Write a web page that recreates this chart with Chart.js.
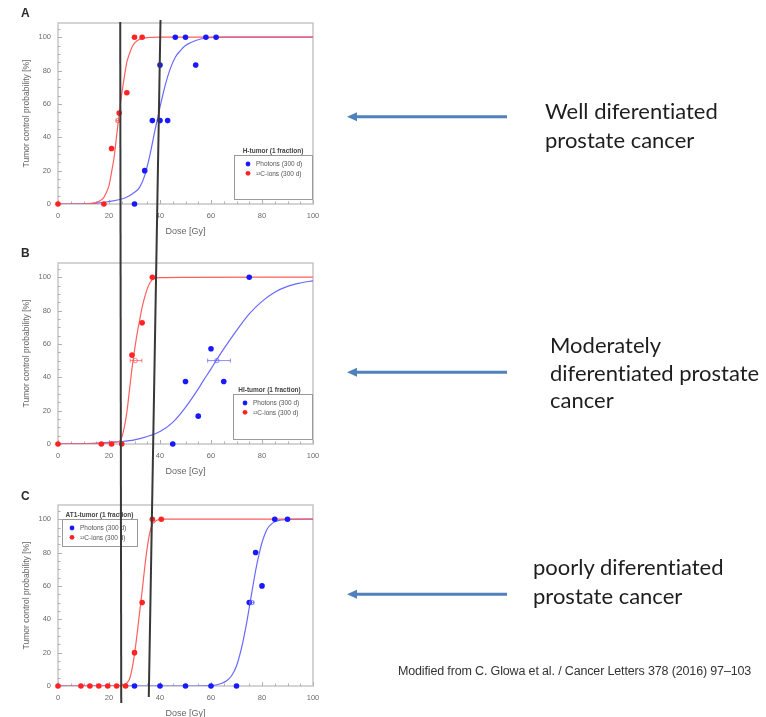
<!DOCTYPE html>
<html>
<head>
<meta charset="utf-8">
<script src="https://cdn.jsdelivr.net/npm/chart.js@4.4.1/dist/chart.umd.min.js"></script>
<style>
  body { margin: 0; background: #fff; }
  #page { position: relative; width: 766px; height: 717px; overflow: hidden; background: #fff; }
  .panel { position: absolute; left: 0; }
  #overlay { position: absolute; left: 0; top: 0; pointer-events: none; }
  .note { position: absolute; font-family: Lato, "Liberation Sans", sans-serif; color: #1e1e1e;
          font-size: 22px; white-space: nowrap; font-variant-ligatures: none; }
  #cite { position: absolute; left: 398px; top: 664px; font-family: "Liberation Sans", sans-serif;
          font-size: 12.5px; color: #333; white-space: nowrap; letter-spacing: -0.15px; }
</style>
</head>
<body>
<div id="page">
  <canvas id="panelA" class="panel" width="330" height="240" style="top:0px"></canvas>
  <canvas id="panelB" class="panel" width="330" height="240" style="top:240px"></canvas>
  <canvas id="panelC" class="panel" width="330" height="240" style="top:482px"></canvas>
  <canvas id="overlay" width="766" height="717"></canvas>

  <div class="note" style="left:545px; top:97px; line-height:28.5px;">Well diferentiated<br>prostate cancer</div>
  <div class="note" style="left:550px; top:331px; line-height:27.5px;">Moderately<br>diferentiated prostate<br>cancer</div>
  <div class="note" style="left:533px; top:552px; line-height:29px;">poorly diferentiated<br>prostate cancer</div>
  <div id="cite">Modified from C. Glowa et al. / Cancer Letters 378 (2016) 97–103</div>
</div>

<script>
// Axis tick values
const doseTicks = [0, 20, 40, 60, 80, 100];
const tcpTicks = [0, 20, 40, 60, 80, 100];

// Series labels
const photonLabel = 'Photons (300 d)';
const ionLabel = '\u00B9\u00B2C-ions (300 d)';

// ---- Panel A: H-tumor (1 fraction) ----
const aPhotonDose = [30, 34, 37, 40, 40, 43, 46, 50, 54, 58, 62];
const aPhotonTcp  = [0, 20, 50, 50, 83.3, 50, 100, 100, 83.3, 100, 100];
const aIonDose = [0, 18, 21, 24, 27, 30, 33];
const aIonTcp  = [0, 0, 33.3, 54.5, 66.7, 100, 100];
const aPhotonFitDose = [0, 10, 15, 20, 25, 28, 30, 32, 34, 36, 38, 40, 42, 44, 46, 48, 50, 54, 58, 65, 80, 100];
const aPhotonFitTcp  = [0, 0.1, 0.5, 1.5, 3, 5, 7, 10, 17, 29, 44, 58, 71, 81, 88, 92, 95, 98, 99.5, 100, 100, 100];
const aIonFitDose = [0, 10, 14, 16, 18, 19, 20, 21, 22, 23, 24, 25, 26, 27, 28, 29, 30, 32, 35, 40, 100];
const aIonFitTcp  = [0, 0, 0.5, 1.5, 4, 7, 11, 19, 28, 41, 54, 66, 76, 85, 90, 94, 96.5, 98.8, 99.7, 100, 100];
const aEd50 = [{ series: 'ion', dose: 23.5, lo: 22.8, hi: 24.2 }];

// ---- Panel B: HI-tumor (1 fraction) ----
const bPhotonDose = [45, 50, 55, 60, 65, 75];
const bPhotonTcp  = [0, 37.5, 16.7, 57.1, 37.5, 100];
const bIonDose = [0, 17, 21, 25, 29, 33, 37];
const bIonTcp  = [0, 0, 0, 0, 53.3, 72.7, 100];
const bPhotonFitDose = [0, 10, 20, 25, 30, 35, 40, 45, 50, 55, 57, 60, 62, 65, 70, 75, 80, 85, 90, 95, 100];
const bPhotonFitTcp  = [0, 0.2, 1, 1.5, 2.5, 4.5, 7.5, 13, 22, 33, 38, 45, 50, 57, 68, 78, 85.5, 91, 94.5, 96.5, 97.8];
const bIonFitDose = [0, 15, 20, 22, 24, 25, 26, 27, 28, 29, 30, 31, 32, 33, 34, 35, 36, 37, 38, 40, 50, 100];
const bIonFitTcp  = [0, 0.3, 0.6, 1, 1.5, 4, 10, 19, 32, 45, 56, 66, 74, 82, 88, 93, 96.5, 98.5, 99.3, 99.7, 99.9, 100];
const bEd50 = [
  { series: 'ion', dose: 30.3, lo: 28.3, hi: 32.9 },
  { series: 'photon', dose: 62.3, lo: 58.7, hi: 67.6 }
];

// ---- Panel C: AT1-tumor (1 fraction) ----
const cPhotonDose = [30, 40, 50, 60, 70, 75, 77.5, 80, 85, 90];
const cPhotonTcp  = [0, 0, 0, 0, 0, 50, 80, 60, 100, 100];
const cIonDose = [0, 9, 12.5, 16, 19.5, 23, 26.5, 30, 33, 37, 40.5];
const cIonTcp  = [0, 0, 0, 0, 0, 0, 0, 20, 50, 100, 100];
const cPhotonFitDose = [0, 55, 60, 62, 64, 66, 68, 70, 72, 74, 75, 76, 77, 78, 79, 80, 82, 84, 86, 88, 90, 100];
const cPhotonFitTcp  = [0, 0, 0.2, 0.6, 1.5, 3, 6, 12, 23, 38, 47, 56, 65, 73, 80, 86, 94, 97.5, 99, 99.6, 99.9, 100];
const cIonFitDose = [0, 20, 25, 26, 27, 28, 29, 30, 31, 32, 33, 34, 35, 36, 37, 38, 39, 42, 100];
const cIonFitTcp  = [0, 0, 0.3, 0.8, 1.8, 4, 10, 19, 31, 44, 57, 71, 83, 92, 97, 98.5, 99.5, 100, 100];
const cEd50 = [{ series: 'photon', dose: 76, lo: 75.2, hi: 76.8 }];

// Dose markers spanning all three panels (dose at top edge, dose at bottom edge)
const doseMarkerTop = [24.4, 40.2];
const doseMarkerBottom = [24.8, 35.6];

// ---------------------------------------------------------------
const PHOTON_PT = 'rgb(25,25,255)';
const ION_PT = 'rgb(255,35,35)';
const PHOTON_LINE = 'rgb(105,105,255)';
const ION_LINE = 'rgb(255,95,95)';
const AXIS_FONT = '"Liberation Sans", Arial, sans-serif';

const zip = (xs, ys) => xs.map((x, i) => ({ x, y: ys[i] }));

// Frame, minor ticks, panel letter, inset legend and ED50 bars
const panelDecor = {
  id: 'panelDecor',
  beforeDatasetsDraw(chart, args, opts) {
    const { ctx, chartArea: a, scales: { x, y } } = chart;
    ctx.save();
    ctx.strokeStyle = '#c6c6c6';
    ctx.lineWidth = 1.5;
    ctx.strokeRect(a.left, a.top, a.right - a.left, a.bottom - a.top);
    ctx.strokeStyle = '#b0b0b0';
    ctx.lineWidth = 1;
    ctx.beginPath();
    for (let v = 0; v <= 105; v += 5) {
      const py = Math.round(y.getPixelForValue(v)) + 0.5;
      ctx.moveTo(a.left, py); ctx.lineTo(a.left + (v % 20 === 0 ? 4 : 2.5), py);
    }
    for (let v = 0; v <= 100; v += 5) {
      const px = Math.round(x.getPixelForValue(v)) + 0.5;
      ctx.moveTo(px, a.bottom); ctx.lineTo(px, a.bottom - (v % 20 === 0 ? 4 : 2.5));
    }
    ctx.stroke();
    ctx.restore();
  },
  afterDatasetsDraw(chart, args, opts) {
    const { ctx, scales: { x, y } } = chart;
    ctx.save();
    (opts.ed50 || []).forEach(e => {
      const col = e.series === 'ion' ? 'rgba(255,90,90,0.75)' : 'rgba(100,100,255,0.75)';
      const py = y.getPixelForValue(50);
      const x0 = x.getPixelForValue(e.lo), x1 = x.getPixelForValue(e.hi), xc = x.getPixelForValue(e.dose);
      ctx.strokeStyle = col; ctx.lineWidth = 1;
      ctx.beginPath();
      ctx.moveTo(x0, py); ctx.lineTo(x1, py);
      ctx.moveTo(x0, py - 2); ctx.lineTo(x0, py + 2);
      ctx.moveTo(x1, py - 2); ctx.lineTo(x1, py + 2);
      ctx.stroke();
      ctx.beginPath(); ctx.arc(xc, py, 2.2, 0, Math.PI * 2); ctx.stroke();
    });
    ctx.restore();
  },
  afterDraw(chart, args, opts) {
    const { ctx, chartArea: a } = chart;
    ctx.save();
    // panel letter
    ctx.fillStyle = '#2a2a2a';
    ctx.font = 'bold 12px ' + AXIS_FONT;
    ctx.textBaseline = 'middle';
    ctx.textAlign = 'left';
    ctx.fillText(opts.letter, 21, opts.letterY);

    // inset legend
    const L = opts.legend;
    const bx = a.left + L.left, by = a.top + L.top;
    ctx.strokeStyle = '#9a9a9a'; ctx.lineWidth = 1;
    ctx.strokeRect(bx + 0.5, by + 0.5, L.width, L.height);
    ctx.fillStyle = '#444';
    ctx.font = 'bold 6.5px ' + AXIS_FONT;
    ctx.textAlign = 'center';
    ctx.fillText(L.title, bx + L.width / 2 + L.titleShift, by - 4);
    ctx.font = '6.5px ' + AXIS_FONT;
    ctx.textAlign = 'left';
    const items = chart.data.datasets.filter(d => d.inLegend);
    items.forEach((d, i) => {
      const my = by + 9 + i * 9.3;
      const mx = bx + L.markerX;
      ctx.fillStyle = d.backgroundColor;
      ctx.beginPath(); ctx.arc(mx, my, 2.4, 0, Math.PI * 2); ctx.fill();
      ctx.fillStyle = '#555';
      ctx.fillText(d.label, mx + 8, my + 0.5);
    });
    ctx.restore();
  }
};

function buildPanel(id, letter, letterY, photon, ion, photonFit, ionFit, ed50, legend) {
  const pointSet = (label, pts, color) => ({
    type: 'scatter', label, data: pts, backgroundColor: color, borderColor: color,
    pointRadius: 2.8, pointHoverRadius: 2.8, borderWidth: 0, order: 0, clip: false, inLegend: true
  });
  const fitSet = (label, pts, color, order) => ({
    type: 'line', label, data: pts, borderColor: color, backgroundColor: color,
    borderWidth: 1.2, pointRadius: 0, cubicInterpolationMode: 'monotone', fill: false, order
  });
  return new Chart(document.getElementById(id), {
    type: 'scatter',
    data: {
      datasets: [
        pointSet(photonLabel, photon, PHOTON_PT),
        pointSet(ionLabel, ion, ION_PT),
        fitSet(photonLabel + ' fit', photonFit, PHOTON_LINE, 2),
        fitSet(ionLabel + ' fit', ionFit, ION_LINE, 1)
      ]
    },
    options: {
      responsive: false,
      devicePixelRatio: 1,
      animation: false,
      layout: { padding: { left: 0, right: 17, top: 23, bottom: 0 } },
      plugins: {
        legend: { display: false },
        tooltip: { enabled: false },
        panelDecor: { letter, letterY, ed50, legend }
      },
      scales: {
        x: {
          type: 'linear', min: 0, max: 100,
          afterBuildTicks: s => { s.ticks = doseTicks.map(v => ({ value: v })); },
          afterFit: s => { s.height = 36; },
          grid: { display: false, drawTicks: false, tickLength: 0 }, border: { display: false },
          ticks: { font: { family: AXIS_FONT, size: 7.5 }, color: '#6a6a6a', padding: 7, maxRotation: 0 },
          title: { display: true, text: 'Dose [Gy]', color: '#666',
                   font: { family: AXIS_FONT, size: 9 }, padding: { top: 0, bottom: 2.6 } }
        },
        y: {
          type: 'linear', min: 0, max: 108.5,
          afterBuildTicks: s => { s.ticks = tcpTicks.map(v => ({ value: v })); },
          afterFit: s => { s.width = 58; },
          grid: { display: false, drawTicks: false, tickLength: 0 }, border: { display: false },
          ticks: { font: { family: AXIS_FONT, size: 7.5 }, color: '#6a6a6a', padding: 7 },
          title: { display: true, text: 'Tumor control probability [%]', color: '#666',
                   font: { family: AXIS_FONT, size: 8.5 }, padding: { top: 22, bottom: 0 } }
        }
      }
    },
    plugins: [panelDecor]
  });
}

const chartA = buildPanel('panelA', 'A', 14,
  zip(aPhotonDose, aPhotonTcp), zip(aIonDose, aIonTcp),
  zip(aPhotonFitDose, aPhotonFitTcp), zip(aIonFitDose, aIonFitTcp), aEd50,
  { title: 'H-tumor (1 fraction)', left: 176, top: 132, width: 78, height: 44, markerX: 14, titleShift: 0 });

const chartB = buildPanel('panelB', 'B', 14,
  zip(bPhotonDose, bPhotonTcp), zip(bIonDose, bIonTcp),
  zip(bPhotonFitDose, bPhotonFitTcp), zip(bIonFitDose, bIonFitTcp), bEd50,
  { title: 'HI-tumor (1 fraction)', left: 175, top: 131, width: 79, height: 45, markerX: 12, titleShift: -3 });

const chartC = buildPanel('panelC', 'C', 15,
  zip(cPhotonDose, cPhotonTcp), zip(cIonDose, cIonTcp),
  zip(cPhotonFitDose, cPhotonFitTcp), zip(cIonFitDose, cIonFitTcp), cEd50,
  { title: 'AT1-tumor (1 fraction)', left: 4, top: 14, width: 75, height: 27, markerX: 10, titleShift: 0 });

// Overlay: dose markers through all panels, and pointer arrows
(function drawOverlay() {
  const ctx = document.getElementById('overlay').getContext('2d');
  const sx = chartA.scales.x;
  ctx.strokeStyle = '#383838';
  ctx.lineWidth = 2;
  const tops = [22, 20], bottoms = [703, 697];
  doseMarkerTop.forEach((d, i) => {
    ctx.beginPath();
    ctx.moveTo(sx.getPixelForValue(d), tops[i]);
    ctx.lineTo(sx.getPixelForValue(doseMarkerBottom[i]), bottoms[i]);
    ctx.stroke();
  });

  ctx.strokeStyle = '#4f81bd';
  ctx.fillStyle = '#4f81bd';
  ctx.lineWidth = 3;
  [116.7, 372.3, 594.3].forEach(y => {
    ctx.beginPath();
    ctx.moveTo(507, y); ctx.lineTo(354, y);
    ctx.stroke();
    ctx.beginPath();
    ctx.moveTo(347, y); ctx.lineTo(357, y - 4.5); ctx.lineTo(357, y + 4.5);
    ctx.closePath(); ctx.fill();
  });
})();
</script>
</body>
</html>
